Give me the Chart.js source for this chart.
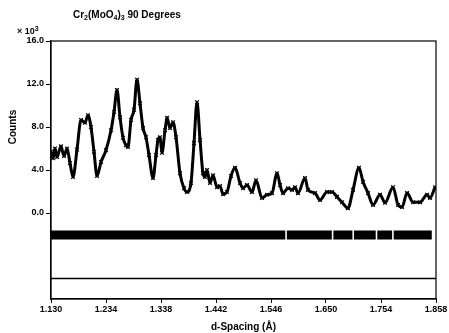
<!DOCTYPE html>
<html>
<head>
<meta charset="utf-8">
<script src="https://cdn.jsdelivr.net/npm/chart.js@4"></script>
<style>
  html, body { margin: 0; padding: 0; background: #fff; }
  #wrap { width: 449px; height: 333px; }
</style>
</head>
<body>
<div id="wrap"><canvas id="myChart" width="449" height="333"></canvas></div>
<script>
// observed profile, counts in thousands
const dSpacing = [
  1.1300, 1.1338, 1.1376, 1.1413, 1.1489, 1.1546, 1.1603, 1.1659, 1.1716, 1.1792,
  1.1867, 1.1943, 1.2000, 1.2056, 1.2113, 1.2170, 1.2246, 1.2340, 1.2435, 1.2492,
  1.2548, 1.2605, 1.2662, 1.2718, 1.2756, 1.2813, 1.2870, 1.2926, 1.2983, 1.3040,
  1.3096, 1.3153, 1.3229, 1.3286, 1.3323, 1.3361, 1.3399, 1.3456, 1.3494, 1.3550,
  1.3607, 1.3664, 1.3739, 1.3815, 1.3872, 1.3947, 1.4004, 1.4061, 1.4118, 1.4174,
  1.4212, 1.4250, 1.4307, 1.4364, 1.4439, 1.4496, 1.4553, 1.4628, 1.4704, 1.4780,
  1.4874, 1.4931, 1.5007, 1.5101, 1.5177, 1.5290, 1.5385, 1.5479, 1.5574, 1.5631,
  1.5687, 1.5782, 1.5858, 1.5914, 1.5971, 1.6103, 1.6160, 1.6292, 1.6387, 1.6519,
  1.6614, 1.6708, 1.6803, 1.6916, 1.7011, 1.7124, 1.7200, 1.7295, 1.7389, 1.7522,
  1.7616, 1.7767, 1.7862, 1.7938, 1.8032, 1.8146, 1.8278, 1.8410, 1.8467, 1.8562
];
const counts = [
  5.7, 5.1, 6.0, 5.2, 6.2, 5.3, 6.0, 4.65, 3.35, 5.9,
  8.65, 8.4, 9.1, 8.0, 5.7, 3.45, 4.75, 5.85, 7.7, 9.4,
  11.45, 8.9, 7.0, 6.3, 6.15, 8.65, 9.6, 12.4, 10.2, 7.9,
  7.05, 5.4, 3.25, 5.4, 6.8, 7.05, 5.6, 7.7, 8.85, 7.9,
  8.45, 7.05, 3.7, 2.3, 1.95, 2.8, 6.5, 10.3, 6.8, 3.7,
  3.35, 4.0, 2.8, 3.5, 2.4, 2.5, 1.75, 1.95, 3.45, 4.2,
  2.8, 2.3, 2.6, 1.95, 3.05, 1.4, 1.7, 1.85, 3.7, 2.6,
  1.85, 2.3, 2.15, 2.4, 1.85, 3.25, 2.15, 1.85, 1.2, 1.95,
  1.95, 1.5, 1.0, 0.45, 2.15, 4.2, 2.9, 1.85, 0.75, 1.7,
  0.95, 2.4, 0.75, 0.55, 1.85, 1.0, 1.0, 1.7, 1.4, 2.4
];

// reflection marker band (runs of tick marks)
const reflectionStart = [1.130, 1.576, 1.664, 1.703, 1.747, 1.778];
const reflectionEnd   = [1.573, 1.661, 1.700, 1.744, 1.775, 1.850];
const reflectionLevel = -2.05;

// difference curve
const diffD = [1.130, 1.300, 1.500, 1.700, 1.858];
const diffCounts = [-6.1, -6.1, -6.1, -6.1, -6.1];

const xTicks = [1.130, 1.234, 1.338, 1.442, 1.546, 1.650, 1.754, 1.858];
const yTicks = [0, 4, 8, 12, 16];

const FONT = 'Liberation Sans, Arial, sans-serif';

const profile = dSpacing.map((d, i) => ({ x: d, y: counts[i] }));
const diffData = diffD.map((d, i) => ({ x: d, y: diffCounts[i] }));
const reflData = [];
reflectionStart.forEach((s, i) => {
  reflData.push({ x: s, y: reflectionLevel });
  reflData.push({ x: reflectionEnd[i], y: reflectionLevel });
  reflData.push({ x: reflectionEnd[i], y: null });
});

const decor = {
  id: 'decor',
  afterDraw(chart) {
    const { ctx, chartArea: a, scales } = chart;
    ctx.save();
    ctx.strokeStyle = '#000';
    ctx.lineWidth = 1.2;
    ctx.strokeRect(a.left, a.top, a.right - a.left, a.bottom - a.top);

    ctx.fillStyle = '#000';
    ctx.textBaseline = 'middle';
    // title with subscripts
    const parts = [['Cr', 0], ['2', 1], ['(MoO', 0], ['4', 1], [')', 0], ['3', 1], [' 90 Degrees', 0]];
    let x = 73;
    parts.forEach(([t, sub]) => {
      ctx.font = sub ? 'bold 7px ' + FONT : 'bold 10px ' + FONT;
      ctx.textAlign = 'left';
      ctx.fillText(t, x, sub ? 18 : 15);
      x += ctx.measureText(t).width;
    });

    ctx.font = 'bold 9px ' + FONT;
    ctx.textAlign = 'left';
    ctx.fillText('\u00d7 10', 17, 32);
    const w = ctx.measureText('\u00d7 10').width;
    ctx.font = 'bold 7px ' + FONT;
    ctx.fillText('3', 17 + w, 29);

    const yMid = (scales.y.getPixelForValue(0) + scales.y.getPixelForValue(16)) / 2;
    ctx.translate(13, yMid);
    ctx.rotate(-Math.PI / 2);
    ctx.font = 'bold 10px ' + FONT;
    ctx.textAlign = 'center';
    ctx.fillText('Counts', 0, 0);
    ctx.restore();
  }
};

new Chart(document.getElementById('myChart'), {
  type: 'line',
  data: {
    datasets: [
      {
        label: 'observed',
        data: profile,
        borderColor: '#000',
        borderWidth: 3,
        cubicInterpolationMode: 'monotone',
        pointStyle: 'crossRot',
        pointRadius: 2.6,
        pointBorderWidth: 1.2,
        pointBorderColor: '#000'
      },
      {
        label: 'reflections',
        data: reflData,
        borderColor: '#000',
        borderWidth: 9,
        borderCapStyle: 'butt',
        spanGaps: false,
        pointRadius: 0
      },
      {
        label: 'difference',
        data: diffData,
        borderColor: '#000',
        borderWidth: 1.5,
        pointRadius: 0
      }
    ]
  },
  options: {
    responsive: false,
    animation: false,
    events: [],
    layout: { padding: { top: 41, right: 13, left: 0, bottom: 0 } },
    plugins: {
      legend: { display: false },
      tooltip: { enabled: false }
    },
    scales: {
      x: {
        type: 'linear',
        min: 1.130,
        max: 1.858,
        afterBuildTicks: s => { s.ticks = xTicks.map(v => ({ value: v })); },
        afterFit: s => { s.height = 34; },
        grid: { drawOnChartArea: false, color: '#000', tickLength: 4, tickWidth: 1 },
        border: { color: '#000', width: 1.2 },
        ticks: {
          color: '#000',
          padding: 1,
          maxRotation: 0,
          font: { family: FONT, size: 9, weight: 'bold' },
          callback: v => v.toFixed(3)
        },
        title: {
          display: true,
          text: 'd-Spacing (\u00c5)',
          color: '#000',
          padding: { top: 1, bottom: 0 },
          font: { family: FONT, size: 10, weight: 'bold' }
        }
      },
      y: {
        min: -8,
        max: 16,
        afterBuildTicks: s => { s.ticks = yTicks.map(v => ({ value: v })); },
        afterFit: s => { s.width = 51; },
        grid: { drawOnChartArea: false, color: '#000', tickLength: 5, tickWidth: 1 },
        border: { color: '#000', width: 1.2 },
        ticks: {
          color: '#000',
          padding: 2,
          font: { family: FONT, size: 9, weight: 'bold' },
          callback: v => v.toFixed(1)
        }
      }
    }
  },
  plugins: [decor]
});
</script>
</body>
</html>
